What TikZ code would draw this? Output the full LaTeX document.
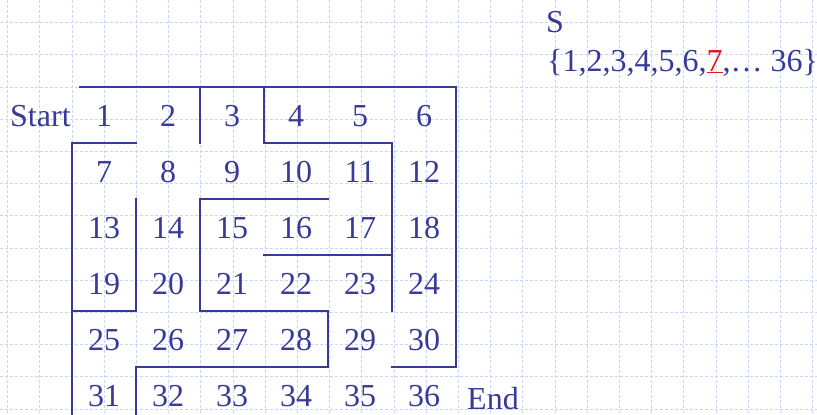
\documentclass[tikz,border=0pt]{standalone}
\usepackage{fontspec}
\setmainfont{Liberation Serif}
\definecolor{ink}{RGB}{55,58,150}
\definecolor{gridc}{RGB}{200,212,248}
\definecolor{redc}{RGB}{230,20,20}
\begin{document}
\begin{tikzpicture}[x=1pt,y=-1pt,
  cell/.style={text=ink,inner sep=0pt,font=\fontsize{32}{37}\selectfont},
  lbl/.style={text=ink,inner sep=0pt,font=\fontsize{32}{37}\selectfont},
  wall/.style={draw=ink,line width=2.2pt,line cap=rect,line join=miter},
  gridline/.style={draw=gridc,line width=0.8pt,dash pattern=on 3pt off 2pt}]
\useasboundingbox (0,0) rectangle (817,415);
\fill[white] (0,0) rectangle (817,415);
% background grid
\foreach \k in {0,...,25} {\draw[gridline] ({7.5+32.2*\k},0) -- ({7.5+32.2*\k},415);}
\foreach \k in {0,...,12} {\draw[gridline] (0,{22.6+32.2*\k}) -- (817,{22.6+32.2*\k});}
% cells
\foreach \r in {0,...,5} {
  \foreach \c in {0,...,5} {
    \pgfmathtruncatemacro{\n}{6*\r+\c+1}
    \node[cell] (c\n) at ({104+64*\c},{116+56*\r}) {\n};
  }
}
% walls
\draw[wall] (80,87) -- (456,87) -- (456,367) -- (392,367);
\draw[wall] (200,87) -- (200,143);
\draw[wall] (264,87) -- (264,143) -- (392,143) -- (392,311);
\draw[wall] (136,143) -- (72,143) -- (72,420);
\draw[wall] (136,199) -- (136,311) -- (72,311);
\draw[wall] (328,199) -- (200,199) -- (200,311) -- (328,311) -- (328,367) -- (136,367) -- (136,420);
\draw[wall] (264,255) -- (392,255);
% labels
\node[lbl,anchor=base west] (start) at (10,126) {Start};
\node[lbl,anchor=base west] (end) at (467,409) {End};
\node[lbl,anchor=base west] (s) at (546,32) {S};
\node[lbl,anchor=base west] (set) at (547,71) {\{1,2,3,4,5,6,{\color{redc}\underline{7}},… 36\}};
\end{tikzpicture}
\end{document}
